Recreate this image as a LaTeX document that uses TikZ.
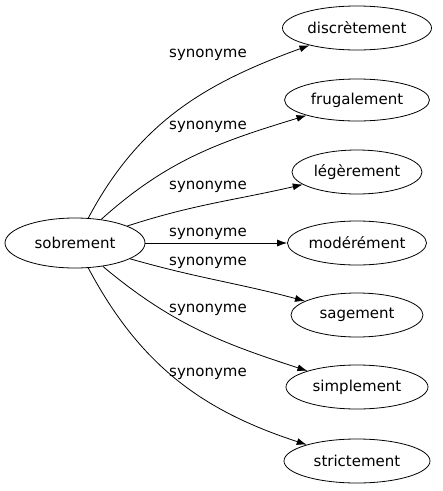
\documentclass[tikz,border=0pt]{standalone}
\usepackage{fontspec}
\setmainfont{DejaVu Sans}
\usetikzlibrary{arrows.meta,shapes.geometric}

\begin{document}
\begin{tikzpicture}[x=1pt,y=-1pt,->,>={Latex[length=10pt,width=7pt]},line width=0.8pt,
  main node/.style={ellipse,draw,font=\fontsize{15}{18}\selectfont,minimum height=44pt,inner sep=0pt},
  syn node/.style={font=\fontsize{15}{18}\selectfont}]
  \useasboundingbox (0,0) rectangle (443,491);

  \node[main node,minimum width=140pt,minimum height=50pt] (0) at (75,243) {sobrement};
  \node[main node,minimum width=149pt] (1) at (357,28) {discrètement};
  \node[main node,minimum width=145pt,minimum height=42pt] (2) at (357,100) {frugalement};
  \node[main node,minimum width=130pt] (3) at (357,172) {légèrement};
  \node[main node,minimum width=139pt] (4) at (357,243) {modérément};
  \node[main node,minimum width=132pt] (5) at (357,315) {sagement};
  \node[main node,minimum width=142pt] (6) at (357,387) {simplement};
  \node[main node,minimum width=146pt] (7) at (357,461) {strictement};

  \path
    (0) edge[out=62,in=200] (1)
        edge[out=42,in=197] (2)
        edge[out=18,in=193] (3)
        edge (4)
        edge[out=-16,in=165] (5)
        edge[out=-40,in=162] (6)
        edge[out=-62,in=162] (7);

  \node[syn node] (s1) at (208,55) {synonyme};
  \node[syn node] (s2) at (208,127) {synonyme};
  \node[syn node] (s3) at (208,187) {synonyme};
  \node[syn node] (s4) at (208,234) {synonyme};
  \node[syn node] (s5) at (208,263) {synonyme};
  \node[syn node] (s6) at (208,310) {synonyme};
  \node[syn node] (s7) at (208,374) {synonyme};
\end{tikzpicture}
\end{document}
